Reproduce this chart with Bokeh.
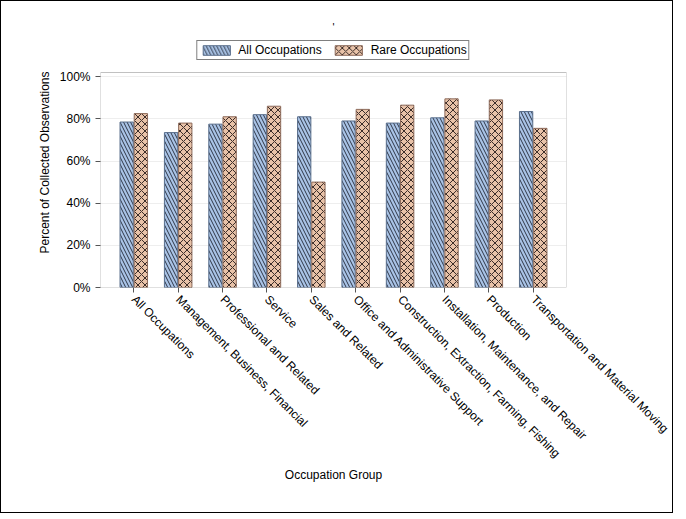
from math import pi

from bokeh.embed import file_html
from bokeh.resources import INLINE
from bokeh.models import (ColumnDataSource, FactorRange, Legend, LegendItem, BoxAnnotation,
                          NumeralTickFormatter, FixedTicker, Range1d, Title)
from bokeh.plotting import figure
from bokeh.transform import dodge

groups = ["All Occupations", "Management, Business, Financial",
          "Professional and Related", "Service", "Sales and Related",
          "Office and Administrative Support",
          "Construction, Extraction, Farming, Fishing",
          "Installation, Maintenance, and Repair", "Production",
          "Transportation and Material Moving"]
all_occ = [0.785, 0.735, 0.775, 0.82, 0.81, 0.79, 0.78, 0.805, 0.79, 0.835]
rare_occ = [0.825, 0.78, 0.81, 0.86, 0.50, 0.845, 0.865, 0.895, 0.89, 0.755]

FONT = "Liberation Sans"
Y_TOP = 1.02

source = ColumnDataSource(data=dict(groups=groups, all_occ=all_occ, rare_occ=rare_occ))

p = figure(x_range=FactorRange(*groups), y_range=Range1d(0, Y_TOP * 250 / 215),
           frame_width=466, frame_height=250, output_backend="svg", toolbar_location=None,
           min_border_left=99, min_border_top=36, min_border_right=106,
           min_border_bottom=225)
p.styles = {"border": "1px solid black"}
p.title = Title(text="'", align="center", text_font_size="8pt", text_font=FONT,
                text_font_style="normal", text_color="black")

r1 = p.vbar(x=dodge("groups", -0.16, range=p.x_range), top="all_occ", width=0.3,
            source=source, fill_color="#a9c3e6", line_color="#5a6f8c",
            hatch_pattern="\\", hatch_color="#2e3646", hatch_scale=7, hatch_weight=1)
r2 = p.vbar(x=dodge("groups", 0.16, range=p.x_range), top="rare_occ", width=0.3,
            source=source, fill_color="#e8c2a8", line_color="#8c6a5a",
            hatch_pattern="x", hatch_color="#3a2c28", hatch_scale=7, hatch_weight=1)

p.add_layout(BoxAnnotation(bottom=0, top=Y_TOP, fill_alpha=0,
                           line_color="#333333", line_width=1))

legend = Legend(items=[LegendItem(label="All Occupations", renderers=[r1]),
                       LegendItem(label="Rare Occupations", renderers=[r2])],
                orientation="horizontal", location="top_center",
                border_line_color="black", label_text_font=FONT,
                label_text_font_size="9pt", label_text_color="black",
                padding=2, spacing=10,
                glyph_width=34, glyph_height=12, label_height=12,
                margin=3, background_fill_alpha=1)
p.add_layout(legend, "center")

p.yaxis.ticker = FixedTicker(ticks=[0, 0.2, 0.4, 0.6, 0.8, 1.0])
p.yaxis.formatter = NumeralTickFormatter(format="0%")
p.yaxis.axis_label = "Percent of Collected Observations"
p.xaxis.axis_label = "Occupation Group"
p.xaxis.major_label_orientation = -pi / 4
p.xaxis.axis_label_standoff = 0
for ax in (p.xaxis, p.yaxis):
    ax.major_label_text_font = FONT
    ax.major_label_text_font_size = "9pt"
    ax.major_label_text_color = "black"
    ax.axis_label_text_font = FONT
    ax.axis_label_text_font_size = "9pt"
    ax.axis_label_text_font_style = "normal"
    ax.axis_label_text_color = "black"
    ax.minor_tick_line_color = None
    ax.major_tick_in = 0
    ax.major_tick_out = 5
    ax.axis_line_color = None
    ax.major_tick_line_color = "#555555"

p.xgrid.grid_line_color = None
p.ygrid.grid_line_color = "#eeeeee"
p.outline_line_color = None
p.x_range.range_padding = 0.05
p.x_range.group_padding = 0

open("out.html", "w").write(file_html(p, INLINE))
